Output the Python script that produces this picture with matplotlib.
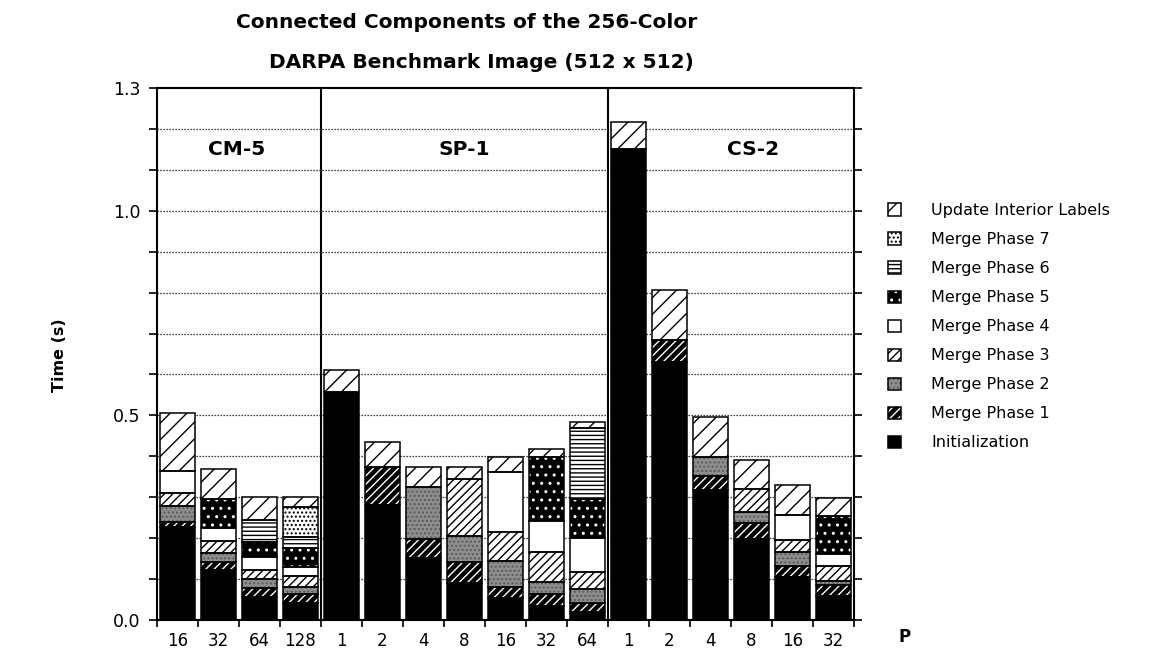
import matplotlib
matplotlib.use("Agg")
import matplotlib.pyplot as plt
from matplotlib.patches import Patch
import numpy as np

plt.rcParams["font.family"] = ["DejaVu Sans"]
plt.rcParams["hatch.linewidth"] = 1.0

# Machines and processor counts (one bar per configuration)
platforms = ["CM-5", "SP-1", "CS-2"]
processors = ["16", "32", "64", "128",
              "1", "2", "4", "8", "16", "32", "64",
              "1", "2", "4", "8", "16", "32"]

# Time spent in each phase (seconds), stacked bottom to top
initialization = [0.228, 0.122, 0.057, 0.041,
                  0.556, 0.281, 0.151, 0.090, 0.053, 0.033, 0.020,
                  1.152, 0.631, 0.318, 0.199, 0.106, 0.059]
merge_phase_1 = [0.012, 0.020, 0.020, 0.023,
                 0.000, 0.092, 0.047, 0.052, 0.028, 0.031, 0.021,
                 0.000, 0.054, 0.034, 0.037, 0.025, 0.026]
merge_phase_2 = [0.039, 0.021, 0.022, 0.016,
                 0.000, 0.000, 0.128, 0.064, 0.064, 0.030, 0.034,
                 0.000, 0.000, 0.046, 0.027, 0.034, 0.010]
merge_phase_3 = [0.032, 0.031, 0.023, 0.028,
                 0.000, 0.000, 0.000, 0.138, 0.071, 0.071, 0.042,
                 0.000, 0.000, 0.000, 0.056, 0.030, 0.038]
merge_phase_4 = [0.053, 0.030, 0.031, 0.021,
                 0.000, 0.000, 0.000, 0.000, 0.146, 0.077, 0.083,
                 0.000, 0.000, 0.000, 0.000, 0.061, 0.028]
merge_phase_5 = [0.000, 0.071, 0.038, 0.046,
                 0.000, 0.000, 0.000, 0.000, 0.000, 0.157, 0.096,
                 0.000, 0.000, 0.000, 0.000, 0.000, 0.093]
merge_phase_6 = [0.000, 0.000, 0.053, 0.029,
                 0.000, 0.000, 0.000, 0.000, 0.000, 0.000, 0.172,
                 0.000, 0.000, 0.000, 0.000, 0.000, 0.000]
merge_phase_7 = [0.000, 0.000, 0.000, 0.071,
                 0.000, 0.000, 0.000, 0.000, 0.000, 0.000, 0.000,
                 0.000, 0.000, 0.000, 0.000, 0.000, 0.000]
update_interior = [0.141, 0.074, 0.057, 0.026,
                   0.055, 0.063, 0.047, 0.029, 0.037, 0.018, 0.015,
                   0.066, 0.121, 0.099, 0.073, 0.074, 0.043]

phase_names = ["Initialization", "Merge Phase 1", "Merge Phase 2",
               "Merge Phase 3", "Merge Phase 4", "Merge Phase 5",
               "Merge Phase 6", "Merge Phase 7", "Update Interior Labels"]
phase_values = [initialization, merge_phase_1, merge_phase_2, merge_phase_3,
                merge_phase_4, merge_phase_5, merge_phase_6, merge_phase_7,
                update_interior]

# fill colour, hatch, hatch colour
phase_styles = [
    ("black", None, "black"),
    ("black", "////", "white"),
    ("#8e8e8e", "....", "#5a5a5a"),
    ("white", "////", "black"),
    ("white", None, "black"),
    ("black", "..", "white"),
    ("white", "----", "black"),
    ("white", "....", "black"),
    ("white", "//", "black"),
]

fig = plt.figure(figsize=(11.52, 6.61), dpi=100)
ax = fig.add_axes([157 / 1152, 1 - 620 / 661, (854 - 157) / 1152, (620 - 88) / 661])

n_bars = len(processors)
x = np.arange(n_bars) + 0.5
bar_w = 0.86

bottom = np.zeros(n_bars)
for vals, (face, hatch, hcol) in zip(phase_values, phase_styles):
    v = np.asarray(vals, dtype=float)
    m = v > 0
    ax.bar(x[m], v[m], bottom=bottom[m], width=bar_w, color=face,
           edgecolor=hcol, hatch=hatch, linewidth=0, zorder=2)
    ax.bar(x[m], v[m], bottom=bottom[m], width=bar_w, fill=False,
           edgecolor="black", linewidth=1.1, zorder=3)
    bottom += v

# dotted reference lines at every 0.1 s
for g in np.arange(1, 13) / 10:
    ax.axhline(g, color="black", linestyle=(0, (1, 1.4)), linewidth=0.9, zorder=0.5)

# machine separators
group_sizes = [4, 7, 6]
edges = np.cumsum(group_sizes)[:-1]
for e in edges:
    ax.axvline(e, color="black", linewidth=1.5, zorder=4)

ax.set_xlim(0, n_bars)
ax.set_ylim(0, 1.3)

for name, xc in zip(platforms, [1.95, 7.5, 14.55]):
    ax.text(xc, 1.149, name, ha="center", va="center", fontsize=14.5,
            fontweight="bold", zorder=5)

ax.set_xticks(x, processors)
ax.set_xticks(np.arange(n_bars + 1), minor=True)
ax.tick_params(axis="x", which="major", length=0, pad=9, labelsize=12)
ax.tick_params(axis="x", which="minor", length=5, width=1.2, direction="out")

ax.set_yticks([0.0, 0.5, 1.0, 1.3], ["0.0", "0.5", "1.0", "1.3"])
ax.set_yticks(np.arange(0, 14) / 10, minor=True)
ax.tick_params(axis="y", which="both", length=6, width=1.2, direction="out",
               left=True, right=True, labelsize=12.5, pad=6)

for s in ax.spines.values():
    s.set_linewidth(1.5)
    s.set_zorder(6)

fig.text(467 / 1152, 1 - 22 / 661, "Connected Components of the 256-Color",
         ha="center", va="center", fontsize=14.5, fontweight="bold")
fig.text(481 / 1152, 1 - 62 / 661, "DARPA Benchmark Image (512 x 512)",
         ha="center", va="center", fontsize=14.5, fontweight="bold")
fig.text(60 / 1152, 1 - 355 / 661, "Time (s)", rotation=90, ha="center",
         va="center", fontsize=11.5, fontweight="bold")
fig.text(905 / 1152, 1 - 637 / 661, "P", ha="center", va="center",
         fontsize=12, fontweight="bold")

handles = []
for face, hatch, hcol in phase_styles:
    fill = Patch(facecolor=face, edgecolor=hcol, hatch=hatch, linewidth=0)
    outline = Patch(fill=False, edgecolor="black", linewidth=1.1)
    handles.append((fill, outline))

fig.legend(handles[::-1], phase_names[::-1], loc="upper left",
           bbox_to_anchor=(888 / 1152, 1 - 203 / 661), frameon=False,
           fontsize=11.5, handlelength=0.8, handleheight=0.8,
           handletextpad=1.9, labelspacing=0.88, borderpad=0, borderaxespad=0)

fig.savefig("out.png", dpi=100)
